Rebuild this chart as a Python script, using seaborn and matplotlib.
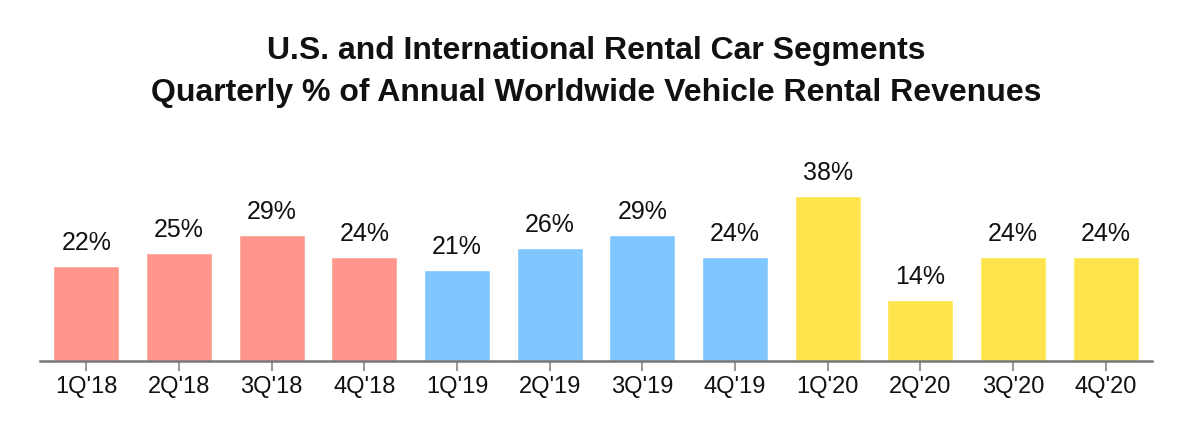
import matplotlib
matplotlib.use("Agg")
import matplotlib.pyplot as plt
import seaborn as sns
import pandas as pd

quarters = ["1Q'18", "2Q'18", "3Q'18", "4Q'18", "1Q'19", "2Q'19", "3Q'19", "4Q'19",
            "1Q'20", "2Q'20", "3Q'20", "4Q'20"]
values = [22, 25, 29, 24, 21, 26, 29, 24, 38, 14, 24, 24]
years = ["2018"] * 4 + ["2019"] * 4 + ["2020"] * 4
year_colors = {"2018": "#FF968C", "2019": "#80C7FF", "2020": "#FFE44D"}

df = pd.DataFrame({"quarter": quarters, "value": values, "year": years})

sns.set_theme(style="white")
plt.rcParams["font.family"] = ["Liberation Sans", "DejaVu Sans"]

fig = plt.figure(figsize=(11.92, 4.44), dpi=100)
ax = fig.add_axes([40 / 1192, 83 / 444, 1112 / 1192, 42 * 4.33 / 444])

sns.barplot(data=df, x="quarter", y="value", hue="year", palette=year_colors,
            dodge=False, width=0.71, legend=False, ax=ax, saturation=1)

ax.set_ylim(0, 42)
ax.set_xlim(-0.5, len(quarters) - 0.5)
for i, v in enumerate(values):
    ax.annotate(f"{v}%", (i, v), xytext=(0, 8), textcoords="offset points",
                ha="center", va="bottom", fontsize=18, color="#111111",
                annotation_clip=False)

for s in ["top", "right", "left"]:
    ax.spines[s].set_visible(False)
ax.spines["bottom"].set_color("#777777")
ax.spines["bottom"].set_linewidth(1.8)
ax.set_yticks([])
ax.set_xlabel("")
ax.set_ylabel("")
ax.tick_params(axis="x", bottom=True, length=7, width=1.5, color="#999999",
               labelsize=17, labelcolor="#111111", pad=4)

fig.suptitle("U.S. and International Rental Car Segments\nQuarterly % of Annual Worldwide Vehicle Rental Revenues",
             x=0.5, y=0.918, fontsize=23, fontweight="bold", color="#111111",
             linespacing=1.5)

fig.savefig("out.png", dpi=100)
